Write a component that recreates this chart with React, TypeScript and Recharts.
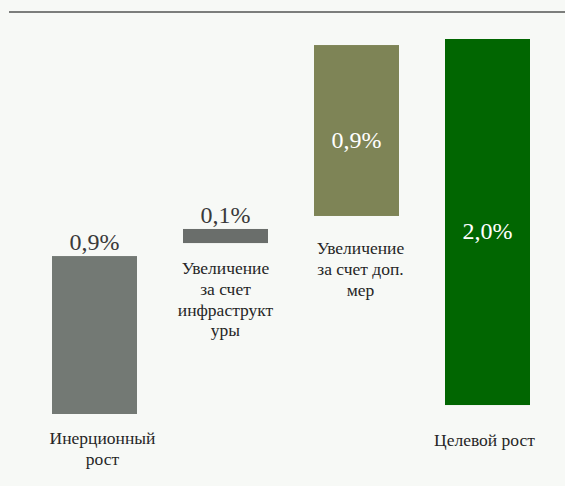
import React from "react";
import { Bar, BarChart, Cell, XAxis, YAxis } from "recharts";

// values (bar bottoms and tops, in % units)
const categories = ["Инерционный рост", "Увеличение за счет инфраструктуры", "Увеличение за счет доп. мер", "Целевой рост"];
const categoryLines = [
  ["Инерционный", "рост"],
  ["Увеличение", "за счет", "инфраструкт", "уры"],
  ["Увеличение", "за счет доп.", "мер"],
  ["Целевой рост"],
];
const barLow = [0, 0.934, 1.082, 0.049];
const barHigh = [0.863, 1.011, 2.016, 2.049];
const valueLabels = ["0,9%", "0,1%", "0,9%", "2,0%"];
const labelInside = [false, false, true, true];
const barColors = ["#737974", "#6a6e6b", "#7e8456", "#016601"];

const data = categories.map((name, i) => ({
  name,
  range: [barLow[i], barHigh[i]],
  label: valueLabels[i],
  lines: categoryLines[i],
  inside: labelInside[i],
}));

// gap between a bar's bottom and its caption, and caption x nudge
const captionGap = [24, 25, 32, 35];
const captionDx = [8, 0, 4, -3];

const FONT = '"Liberation Serif"';

const BarShape = (props: any) => {
  const { x, y, width, height, fill, payload, index } = props;
  const top = Math.min(y, y + height);
  const bottom = Math.max(y, y + height);
  const cx = x + width / 2;
  const labelY = payload.inside ? (top + bottom) / 2 + 9 : top - 14;
  return (
    <g>
      <rect x={x} y={top} width={width} height={bottom - top} fill={fill} />
      <text
        x={cx}
        y={labelY}
        textAnchor="middle"
        dominantBaseline="central"
        style={{ fontFamily: FONT, fontSize: 24 }}
        fill={payload.inside ? "#ffffff" : "#3a3a3a"}
      >
        {payload.label}
      </text>
      {payload.lines.map((line: string, i: number) => (
        <text
          key={line}
          x={cx + captionDx[index]}
          y={bottom + captionGap[index] + i * 20.8}
          textAnchor="middle"
          dominantBaseline="central"
          style={{ fontFamily: FONT, fontSize: 17.5 }}
          fill="#262626"
        >
          {line}
        </text>
      ))}
    </g>
  );
};

export default function App() {
  return (
    <div
      style={{
        position: "absolute",
        left: 0,
        top: 0,
        width: 565,
        height: 486,
        background: "#f7f9f6",
        fontFamily: FONT,
      }}
    >
      <div
        style={{
          position: "absolute",
          left: 9,
          right: 0,
          top: 11,
          height: 2,
          background: "#7c7e7c",
        }}
      />
      <BarChart
        width={565}
        height={486}
        data={data}
        margin={{ top: 39, right: 12, bottom: 72, left: 29 }}
        barSize={85}
      >
        <XAxis dataKey="name" hide />
        <YAxis type="number" domain={[0, 2.049]} hide />
        <Bar dataKey="range" isAnimationActive={false} shape={BarShape}>
          {data.map((d, i) => (
            <Cell key={d.name} fill={barColors[i]} />
          ))}
        </Bar>
      </BarChart>
    </div>
  );
}
